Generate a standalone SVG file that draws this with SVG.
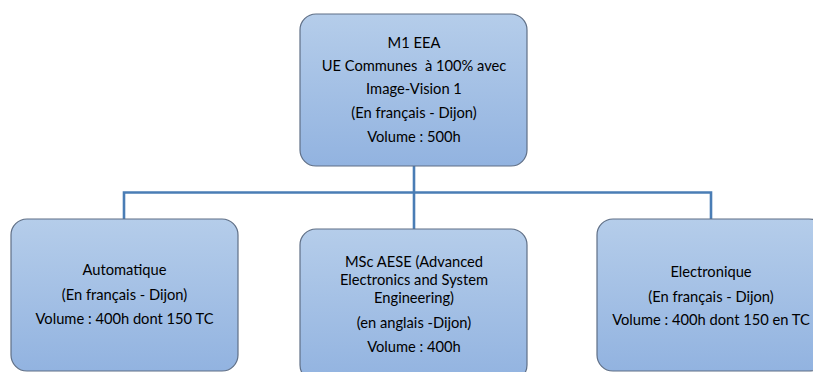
<svg xmlns="http://www.w3.org/2000/svg" width="813" height="372" viewBox="0 0 813 372">
<defs>
<linearGradient id="g" x1="0" y1="0" x2="0" y2="1">
<stop offset="0" stop-color="#b5cdea"/>
<stop offset="1" stop-color="#92b3e0"/>
</linearGradient>
<style>
.box{fill:url(#g);stroke:#5f6f86;stroke-width:1.2}
.t{font-family:Lato,"Liberation Sans",sans-serif;font-size:14.7px;fill:#000;text-anchor:middle;white-space:pre}
.c{fill:none;stroke:#4a7db5;stroke-width:2.6}
</style>
</defs>
<rect width="813" height="372" fill="#fff"/>
<g id="connectors">
<path class="c" d="M414 166 V229"/>
<path class="c" d="M124 219 V192.5 H711 V219"/>
</g>
<g id="m1">
<rect class="box" x="300" y="14" width="227" height="152" rx="16"/>
<text class="t" x="414" y="48">M1 EEA</text>
<text class="t" x="414" y="71" xml:space="preserve">UE Communes  à 100% avec</text>
<text class="t" x="414" y="94">Image-Vision 1</text>
<text class="t" x="414" y="118">(En français - Dijon)</text>
<text class="t" x="414" y="142">Volume : 500h</text>
</g>
<g id="automatique">
<rect class="box" x="11" y="219" width="227" height="152" rx="16"/>
<text class="t" x="124.5" y="275">Automatique</text>
<text class="t" x="124.5" y="300">(En français - Dijon)</text>
<text class="t" x="124.5" y="324">Volume : 400h dont 150 TC</text>
</g>
<g id="msc">
<rect class="box" x="300" y="229" width="227" height="152" rx="16"/>
<text class="t" x="414" y="267">MSc AESE (Advanced</text>
<text class="t" x="414" y="285">Electronics and System</text>
<text class="t" x="414" y="303">Engineering)</text>
<text class="t" x="414" y="328">(en anglais -Dijon)</text>
<text class="t" x="414" y="352">Volume : 400h</text>
</g>
<g id="electronique">
<rect class="box" x="597" y="219" width="228" height="152" rx="16"/>
<text class="t" x="711" y="277">Electronique</text>
<text class="t" x="711" y="302">(En français - Dijon)</text>
<text class="t" x="711" y="325">Volume : 400h dont 150 en TC</text>
</g>
</svg>
